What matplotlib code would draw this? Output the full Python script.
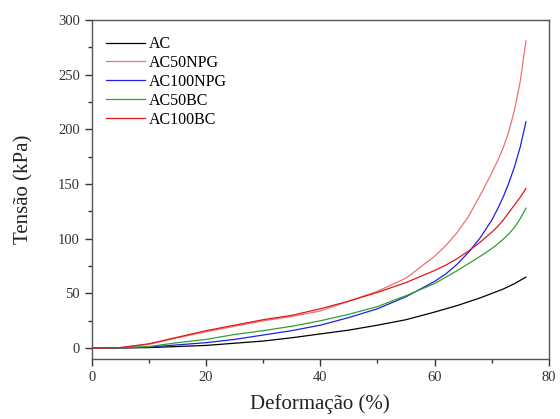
import matplotlib.pyplot as plt
from matplotlib.ticker import MultipleLocator

plt.rcParams['font.family'] = ['Liberation Serif', 'DejaVu Serif']

strain = [0, 5, 10, 15, 20, 25, 30, 35, 40, 45, 50, 55, 60, 62, 64, 66, 68, 70, 71, 72, 73, 74, 75, 76]
ac = [0, 0.2, 0.5, 1.5, 2.5, 4.5, 6.5, 9.5, 13, 16.5, 21, 26, 33, 36, 39, 42.5, 46, 50, 52, 54, 56.5, 59, 62, 65]
ac50npg = [0, 0.5, 3.5, 9.5, 15, 20, 25, 29, 34, 43, 52, 64, 84, 94, 106, 121, 140, 160, 171, 183, 198, 218, 244, 281]
ac100npg = [0, 0.3, 1, 3, 5, 8, 12, 16, 21, 28, 36, 47, 61, 68, 77, 88, 101, 117, 127, 138, 151, 166, 184, 207]
ac50bc = [0, 0.3, 1.5, 5, 8, 12.5, 16, 20, 25, 31, 38, 48, 59, 65, 71, 77.5, 84, 91, 95, 99.5, 104.5, 110.5, 118.5, 128]
ac100bc = [0, 0.5, 4, 10, 16, 21, 26, 30, 36, 43, 51, 60, 71, 76, 82, 89, 97, 106, 111, 117, 124, 131, 138, 146]

series = [
    ("AC", ac, "black"),
    ("AC50NPG", ac50npg, "#f07070"),
    ("AC100NPG", ac100npg, "#2020e0"),
    ("AC50BC", ac50bc, "#30a030"),
    ("AC100BC", ac100bc, "#e01818"),
]

fig = plt.figure(figsize=(5.6, 4.19), dpi=100)
ax = fig.add_axes([0.164, 0.143, 0.816, 0.809])

for name, vals, col in series:
    ax.plot(strain, vals, color=col, lw=0.9, label=name)

ax.set_xlim(0, 80)
ax.set_ylim(-10, 300)
ax.xaxis.set_major_locator(MultipleLocator(20))
ax.xaxis.set_minor_locator(MultipleLocator(10))
ax.yaxis.set_major_locator(MultipleLocator(50))
ax.yaxis.set_minor_locator(MultipleLocator(25))
ax.tick_params(which='major', direction='out', length=5, width=1, labelsize=10.5, colors='#333333')
ax.tick_params(which='minor', direction='out', length=3, width=1, colors='#333333')
for s in ax.spines.values():
    s.set_color('#555555')
    s.set_linewidth(1)

ax.set_xlabel("Deformação (%)", fontsize=15, color='#222222', labelpad=7)
ax.set_ylabel("Tensão (kPa)", fontsize=15, color='#222222', labelpad=18)

ax.legend(loc='upper left', bbox_to_anchor=(0.0, 0.995), frameon=False,
          fontsize=11.5, handlelength=2.4, handletextpad=0.3, labelspacing=0.18)

fig.savefig("out.png", dpi=100)
